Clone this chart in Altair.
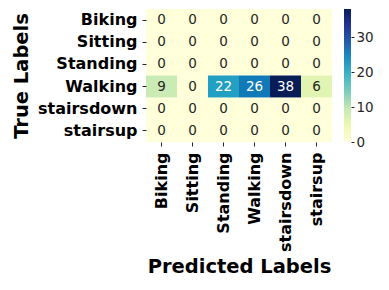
import altair as alt
import pandas as pd

labels = ["Biking", "Sitting", "Standing", "Walking", "stairsdown", "stairsup"]
counts = [
    [0, 0, 0, 0, 0, 0],
    [0, 0, 0, 0, 0, 0],
    [0, 0, 0, 0, 0, 0],
    [9, 0, 22, 26, 38, 6],
    [0, 0, 0, 0, 0, 0],
    [0, 0, 0, 0, 0, 0],
]
cb_ticks = [0, 10, 20, 30]
vmax = 38
ylgnbu = ["#ffffd9", "#edf8b1", "#c7e9b4", "#7fcdbb", "#41b6c4",
          "#1d91c0", "#225ea8", "#253494", "#081d58"]

rows = []
for i, t in enumerate(labels):
    for j, p in enumerate(labels):
        rows.append({"True": t, "Predicted": p, "Count": counts[i][j]})
df = pd.DataFrame(rows)

FONT = "DejaVu Sans"
stops_dom = [vmax * k / (len(ylgnbu) - 1) for k in range(len(ylgnbu))]

base = alt.Chart(df).encode(
    x=alt.X("Predicted:N", sort=labels,
            scale=alt.Scale(paddingInner=0, paddingOuter=0),
            axis=alt.Axis(title="Predicted Labels", labelAngle=-90,
                          labelPadding=6, titlePadding=6)),
    y=alt.Y("True:N", sort=labels,
            scale=alt.Scale(paddingInner=0, paddingOuter=0),
            axis=alt.Axis(title="True Labels", labelPadding=5, titlePadding=6)),
)
rect = base.mark_rect().encode(
    color=alt.Color("Count:Q", scale=alt.Scale(domain=stops_dom, range=ylgnbu), legend=None)
)
text = base.mark_text(fontSize=13.5, font=FONT).encode(
    text="Count:Q",
    color=alt.condition(alt.datum.Count > 15, alt.value("white"), alt.value("#262626")),
)
heat = (rect + text).properties(width=186, height=133)

cb_df = pd.DataFrame({"lo": [0], "hi": [vmax]})
grad = alt.Gradient(
    gradient="linear",
    stops=[alt.GradientStop(color=c, offset=k / (len(ylgnbu) - 1)) for k, c in enumerate(ylgnbu)],
    x1=0, x2=0, y1=1, y2=0,
)
cb = alt.Chart(cb_df).mark_rect(color=grad).encode(
    y=alt.Y("lo:Q", scale=alt.Scale(domain=[0, vmax], nice=False, zero=False),
            axis=alt.Axis(orient="right", values=cb_ticks, title=None, grid=False,
                          domain=False, tickSize=3, labelPadding=2, labelFontSize=13.5,
                          labelFontWeight="normal", labelColor="#262626")),
    y2="hi:Q",
    x=alt.value(0),
    x2=alt.value(7),
).properties(width=7, height=133)

chart = alt.hconcat(heat, cb, spacing=12).properties(
    padding={"left": 3, "top": 1, "right": 0, "bottom": 2}
).configure_view(stroke=None).configure_axis(
    labelFont=FONT, titleFont=FONT, labelFontSize=16, labelFontWeight="bold",
    titleFontSize=19.5, titleFontWeight="bold", labelColor="black", titleColor="black",
    tickSize=4, tickColor="#262626", domain=False, grid=False,
)

chart.save("out.html", embed_options={"renderer": "svg", "actions": False})
